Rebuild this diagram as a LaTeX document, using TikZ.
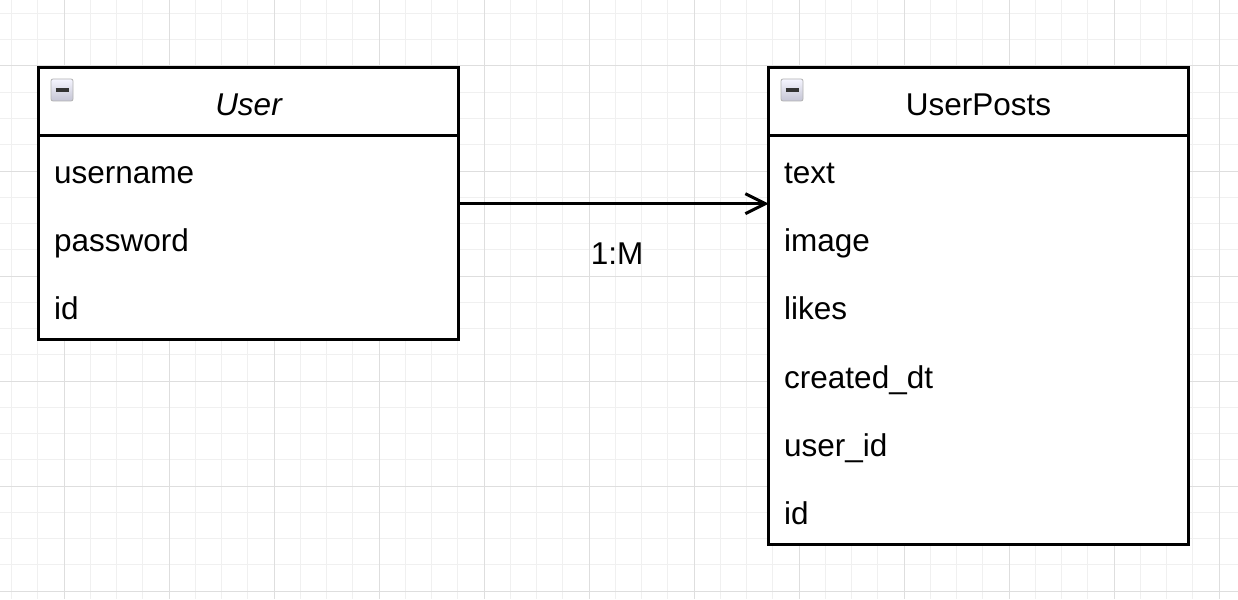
\documentclass[tikz,border=0pt]{standalone}
\usepackage{fontspec}
\setmainfont{Liberation Sans}
\usetikzlibrary{arrows.meta}
\tikzset{
  minorgrid/.style={draw=black!6, line width=1pt},
  majorgrid/.style={draw=black!13, line width=1pt},
  classbox/.style={draw=black, line width=2.8pt, fill=white, minimum width=420pt, inner sep=0pt, outer sep=0pt, anchor=north west},
  sepline/.style={draw=black, line width=2.8pt},
  field/.style={anchor=base west, inner sep=0pt, font=\fontsize{31.5}{36}\selectfont},
  title/.style={anchor=base, inner sep=0pt, font=\fontsize{31.5}{36}\selectfont},
  toggle/.style={draw=black!30, line width=0.8pt, rounded corners=2pt, top color=blue!4!white, bottom color=blue!15!gray!40, minimum size=22pt, inner sep=0pt},
  conn/.style={draw=black, line width=3pt, -{Straight Barb[length=20pt, width=20pt, line width=3pt]}},
  lbl/.style={anchor=base, inner sep=0pt, font=\fontsize{31.5}{36}\selectfont}
}
\begin{document}
\begin{tikzpicture}[x=1pt, y=-1pt]
\useasboundingbox (0,0) rectangle (1238,599);
\fill[white] (0,0) rectangle (1238,599);
% grid
\foreach \i in {0,...,46} {\draw[minorgrid] ({11.5+26.25*\i},0) -- ({11.5+26.25*\i},599);}
\foreach \i in {0,...,22} {\draw[minorgrid] (0,{13.5+26.25*\i}) -- (1238,{13.5+26.25*\i});}
\foreach \x in {64,169,...,1219} {\draw[majorgrid] (\x,0) -- (\x,599);}
\foreach \y in {66,171,...,591} {\draw[majorgrid] (0,\y) -- (1238,\y);}

% User class
\node[classbox, minimum height=272pt] (user) at (38.7,67.7) {};
\draw[sepline] (user.west |- 0,135.3) -- (user.east |- 0,135.3);
\node[toggle] (usertoggle) at (62,90) {};
\draw[black!80, line width=3.2pt] ([xshift=-6.5pt]usertoggle.center) -- ([xshift=6.5pt]usertoggle.center);
\node[title] (usertitle) at (248.5,116) {\itshape User};
\node[field] (uname) at (54,183) {username};
\node[field] (upass) at (54,251) {password};
\node[field] (uid) at (54,319) {id};

% UserPosts class
\node[classbox, minimum height=477pt] (posts) at (768.7,67.7) {};
\draw[sepline] (posts.west |- 0,135.3) -- (posts.east |- 0,135.3);
\node[toggle] (poststoggle) at (792,90) {};
\draw[black!80, line width=3.2pt] ([xshift=-6.5pt]poststoggle.center) -- ([xshift=6.5pt]poststoggle.center);
\node[title] (poststitle) at (978.5,116) {UserPosts};
\node[field] (ptext) at (784,183) {text};
\node[field] (pimage) at (784,251) {image};
\node[field] (plikes) at (784,319) {likes};
\node[field] (pcreated) at (784,388) {created\_dt};
\node[field] (puser) at (784,456) {user\_id};
\node[field] (pid) at (784,524) {id};

% connector
\coordinate (cstart) at (user.east |- 0,203.7);
\draw[conn] (cstart) -- (cstart -| posts.west);
\node[lbl] (card) at (617,264) {1:M};
\end{tikzpicture}
\end{document}
